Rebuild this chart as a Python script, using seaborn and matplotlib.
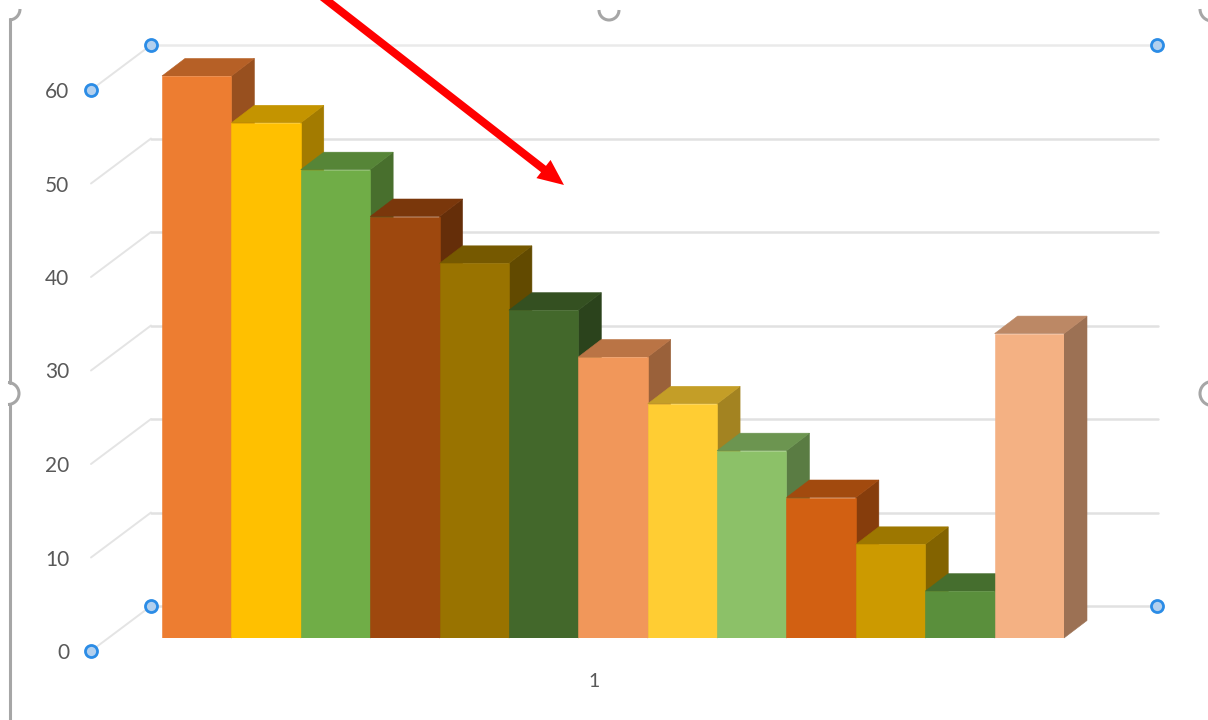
import numpy as np
import pandas as pd
import matplotlib
matplotlib.use("Agg")
import matplotlib.pyplot as plt
from matplotlib.patches import Polygon, Arc, FancyArrow
import seaborn as sns

# values, one series per bar
series = ["S1", "S2", "S3", "S4", "S5", "S6", "S7", "S8", "S9", "S10", "S11", "S12", "S13"]
values = [60, 55, 50, 45, 40, 35, 30, 25, 20, 15, 10, 5, 32.5]
colors = ["#ED7D31", "#FFC000", "#70AD47", "#9E480E", "#997300", "#43682B",
          "#F1975A", "#FFCD33", "#8CC168", "#D26012", "#CC9A00", "#5A8F3C", "#F4B183"]
y_ticks = [0, 10, 20, 30, 40, 50, 60]
x_label = "1"

W, H = 1208, 720
TOP_SHADE = 0.77
SIDE_SHADE = 0.64

sns.set_theme(style="white")
plt.rcParams["font.family"] = ["Lato", "DejaVu Sans"]

fig = plt.figure(figsize=(W / 100, H / 100), dpi=100)


def rect(x0, x1, y_bottom, y_top):
    # pixel box of the picture -> figure fractions
    return [x0 / W, 1 - y_bottom / H, (x1 - x0) / W, (y_bottom - y_top) / H]


# back wall, side wall and value axis, x in pixels from the axis corner
wall = fig.add_axes(rect(91, 1158, 651, 90))
wall.set_xlim(0, 1067)
wall.set_ylim(0, 60)
wall_dx = 60
wall_rise = 4.81
for v in y_ticks:
    top_line = v == y_ticks[-1]
    col = "#EAEAEA" if top_line else "#E1E1E1"
    wall.plot([wall_dx, 1067], [v + wall_rise, v + wall_rise], color=col, lw=1.8, clip_on=False, zorder=1)
    wall.plot([0, wall_dx], [v, v + wall_rise], color="#E4E4E4", lw=1.4, clip_on=False, zorder=1)
wall.set_yticks(y_ticks, [str(v) for v in y_ticks], color="#595959", fontsize=15)
wall.set_xticks([])
wall.tick_params(axis="y", length=0, pad=15.5)
sns.despine(ax=wall, left=True, bottom=True)
wall.patch.set_visible(False)

handle_x = [0, 0, wall_dx, wall_dx, 1066, 1066]
handle_y = [y_ticks[-1], 0, y_ticks[-1] + wall_rise, wall_rise, y_ticks[-1] + wall_rise, wall_rise]
wall.scatter(handle_x, handle_y, s=75, facecolor="#B3D0EE", edgecolor="#2B8CE6", linewidth=2.0,
             clip_on=False, zorder=5)

# the bars
ax = fig.add_axes(rect(162, 1064, 638, 76))
df = pd.DataFrame({"series": series, "value": values})
sns.barplot(data=df, x="series", y="value", hue="series", palette=colors, width=1,
            saturation=1, legend=False, linewidth=0, ax=ax)
ax.set_xlim(-0.5, 12.5)
ax.set_ylim(0, 60)
ax.set_xlabel("")
ax.set_ylabel("")
ax.set_yticks([])
ax.set_xticks([5.73], [x_label], color="#595959", fontsize=14)
ax.tick_params(axis="x", length=0, pad=25)
sns.despine(ax=ax, left=True, bottom=True)
ax.patch.set_visible(False)

# fake 3d depth, taken from each drawn bar
depth_x = 23 / (902 / 13)
depth_y = 17.5 / (562 / 60)
for i, bar in enumerate(ax.patches):
    x0 = bar.get_x()
    x1 = x0 + bar.get_width()
    h = bar.get_height()
    base = np.array(matplotlib.colors.to_rgb(colors[i]))
    bar.set_zorder(12 + 3 * i)
    bar.set_edgecolor(colors[i])
    bar.set_linewidth(0.4)
    side_col = base * SIDE_SHADE
    top_col = base * TOP_SHADE
    side = Polygon([(x1, 0), (x1 + depth_x, depth_y), (x1 + depth_x, h + depth_y), (x1, h)],
                   closed=True, facecolor=side_col, edgecolor=side_col, linewidth=0.4,
                   clip_on=False, zorder=10 + 3 * i)
    top = Polygon([(x0, h), (x0 + depth_x, h + depth_y), (x1 + depth_x, h + depth_y), (x1, h)],
                  closed=True, facecolor=top_col, edgecolor=top_col, linewidth=0.4,
                  clip_on=False, zorder=11 + 3 * i)
    ax.add_patch(side)
    ax.add_patch(top)

# screenshot leftovers: selection frame and the red arrow, in pixels
over = fig.add_axes([0, 0, 1, 1])
over.set_xlim(0, W)
over.set_ylim(H, 0)
over.axis("off")
over.patch.set_visible(False)

frame_col = "#A6A6A6"
frame_lw = 2.2
over.plot([9.5, 9.5], [19, 383], color=frame_col, lw=frame_lw)
over.plot([9.5, 9.5], [404, H], color=frame_col, lw=frame_lw)
arcs = [(9, 9, 11, 0, 90), (8, 393.5, 11, -90, 90), (609, 10, 10, 0, 180),
        (1212, 9, 12, 90, 180), (1212, 393.5, 12, 90, 270)]
for cx, cy, r, t1, t2 in arcs:
    over.add_patch(Arc((cx, cy), 2 * r, 2 * r, theta1=t1, theta2=t2, color=frame_col, lw=frame_lw))

arrow_start = (320, -5)
arrow_end = (564, 185)
over.add_patch(FancyArrow(arrow_start[0], arrow_start[1],
                          arrow_end[0] - arrow_start[0], arrow_end[1] - arrow_start[1],
                          width=8, head_width=23, head_length=26, length_includes_head=True,
                          color="#FF0000", linewidth=0))

fig.savefig("out.png", dpi=100)
